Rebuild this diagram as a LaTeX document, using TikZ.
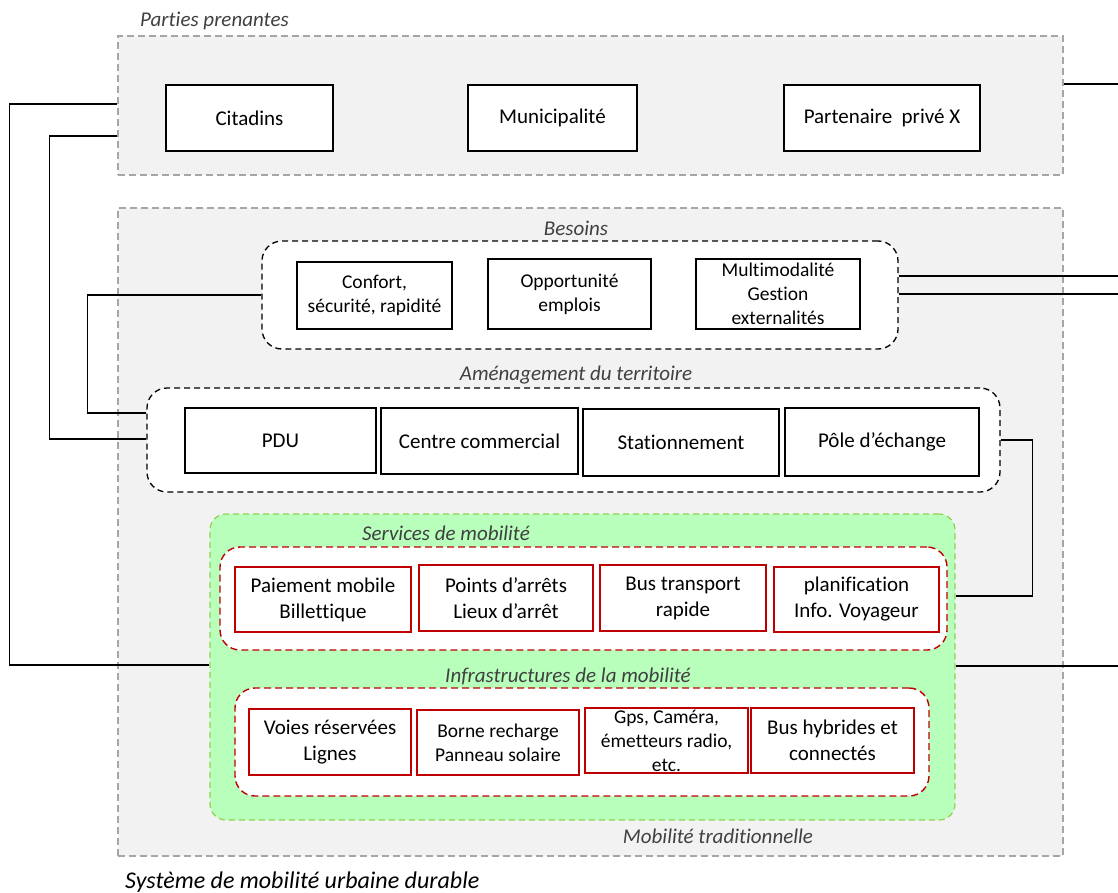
\documentclass[tikz,border=0pt]{standalone}
\usepackage{fontspec}
\setmainfont{Carlito}[Ligatures=NoCommon]
\definecolor{grayfill}{HTML}{F2F2F2}
\definecolor{grayline}{HTML}{A6A6A6}
\definecolor{greenfill}{RGB}{183,255,187}
\definecolor{greenline}{HTML}{92D050}
\definecolor{redline}{HTML}{C00000}
\definecolor{labelgray}{HTML}{404040}
\begin{document}
\begin{tikzpicture}[x=1pt,y=-1pt,
  outerbox/.style={draw=grayline,fill=grayfill,line width=1.2pt,dash pattern=on 7pt off 4pt,inner sep=0pt},
  groupbox/.style={draw=black,fill=white,line width=1.3pt,dash pattern=on 6pt off 4pt,rounded corners=20pt,inner sep=0pt},
  greenbox/.style={draw=greenline,fill=greenfill,line width=1.2pt,dash pattern=on 6pt off 4pt,rounded corners=16pt,inner sep=0pt},
  redgroup/.style={draw=redline,fill=white,line width=1.4pt,dash pattern=on 7pt off 4pt,rounded corners=20pt,inner sep=0pt},
  bbox/.style={draw=black,fill=white,line width=1.3pt,inner sep=0pt,align=center,font=\fontsize{21}{25}\selectfont},
  sbox/.style={draw=black,fill=white,line width=1.3pt,inner sep=0pt,align=center,font=\fontsize{19.5}{24}\selectfont},
  rbox/.style={draw=redline,fill=white,line width=1.3pt,inner sep=0pt,align=center,font=\fontsize{21}{26}\selectfont},
  rsbox/.style={draw=redline,fill=white,line width=1.3pt,inner sep=0pt,align=center,font=\fontsize{19.5}{24}\selectfont},
  glabel/.style={text=labelgray,font=\fontsize{21}{24}\selectfont\itshape,inner sep=0pt},
  conn/.style={draw=black,line width=1.3pt}
]
\useasboundingbox (0,0) rectangle (1118,893);

% containers
\node[outerbox,minimum width=945,minimum height=139] (pp) at (590.5,105.5) {};
\node[outerbox,minimum width=945,minimum height=648] (sys) at (590.5,532) {};
\node[groupbox,minimum width=636,minimum height=108] (bes) at (580,295) {};
\node[groupbox,minimum width=853,minimum height=104] (amen) at (573.5,440) {};
\node[greenbox,minimum width=745,minimum height=306] (green) at (582.5,667) {};
\node[redgroup,minimum width=727,minimum height=103] (serv) at (583.5,598.5) {};
\node[redgroup,minimum width=694,minimum height=108] (infra) at (582,742) {};

% labels
\node[glabel,anchor=base west] (lpp) at (140,27) {Parties prenantes};
\node[glabel,anchor=base] (lbes) at (576,236) {Besoins};
\node[glabel,anchor=base] (lamen) at (576,380) {Aménagement du territoire};
\node[glabel,anchor=base] (lserv) at (446,540) {Services de mobilité};
\node[glabel,anchor=base] (linfra) at (568,682) {Infrastructures de la mobilité};
\node[glabel,anchor=base] (ltrad) at (718,843) {Mobilité traditionnelle};
\node[inner sep=0pt,anchor=base west,font=\fontsize{24}{28}\selectfont\itshape] (lsys) at (125,888) {Système de mobilité urbaine durable};

% stakeholders
\node[bbox,minimum width=167,minimum height=66] (cit) at (249.5,118) {Citadins};
\node[bbox,minimum width=169,minimum height=66] (mun) at (552.5,118) {Municipalité};
\node[bbox,minimum width=196,minimum height=66] (part) at (882,118) {Partenaire~~privé X};

% besoins
\node[sbox,minimum width=155,minimum height=67] (conf) at (374.5,295.5) {Confort,\\sécurité, rapidité};
\node[sbox,minimum width=163,minimum height=70] (opp) at (569.5,294) {Opportunité\\emplois};
\node[sbox,minimum width=164,minimum height=70] (multi) at (778,294) {Multimodalité\\Gestion\\externalités};

% amenagement
\node[bbox,minimum width=191,minimum height=65] (pdu) at (280.5,440.5) {PDU};
\node[bbox,minimum width=197,minimum height=66] (cc) at (479.5,441) {Centre commercial};
\node[bbox,minimum width=196,minimum height=67] (stat) at (681,442.5) {Stationnement};
\node[bbox,minimum width=194,minimum height=68] (pole) at (882,442) {Pôle d’échange};

% services
\node[rbox,minimum width=176,minimum height=65] (pay) at (323,599.5) {Paiement mobile\\Billettique};
\node[rbox,minimum width=174,minimum height=66] (pts) at (506,598) {Points d’arrêts\\Lieux d’arrêt};
\node[rbox,minimum width=166,minimum height=66] (bus) at (683,598) {Bus transport\\rapide};
\node[rbox,minimum width=165,minimum height=65] (plan) at (856.5,599.5) {planification\\Info. Voyageur};

% infrastructures
\node[rbox,minimum width=162,minimum height=66] (voies) at (330,742) {Voies réservées\\Lignes};
\node[rsbox,minimum width=162,minimum height=65] (borne) at (498,742.5) {Borne recharge\\Panneau solaire};
\node[rsbox,minimum width=163,minimum height=65] (gps) at (666.5,740.5) {Gps, Caméra,\\émetteurs radio,\\etc.};
\node[rbox,minimum width=163,minimum height=65] (hyb) at (832.5,740.5) {Bus hybrides et\\connectés};

% free ends on the right
\coordinate (r1) at (1118,84);
\coordinate (r2) at (1118,276);
\coordinate (r3) at (1118,294);
\coordinate (r4) at (1118,666);

% connectors
\draw[conn] ([yshift=1.5pt]pp.west) -- ++(-108,0) |- ([yshift=2pt]green.west);
\draw[conn] ([yshift=-30.5pt]pp.west) -- ++(-68,0) |- ([yshift=1pt]amen.west);
\draw[conn] (bes.west) -- ++(-174,0) |- ([yshift=27pt]amen.west);
\draw[conn] ([yshift=21.5pt]pp.east) -- (r1);
\draw[conn] ([yshift=19pt]bes.east) -- (r2);
\draw[conn] ([yshift=1pt]bes.east) -- (r3);
\draw[conn] (amen.east) -- ++(32,0) |- ([yshift=2.5pt]green.east |- serv.center);
\draw[conn] ([yshift=1pt]green.east) -- (r4);
\end{tikzpicture}
\end{document}
